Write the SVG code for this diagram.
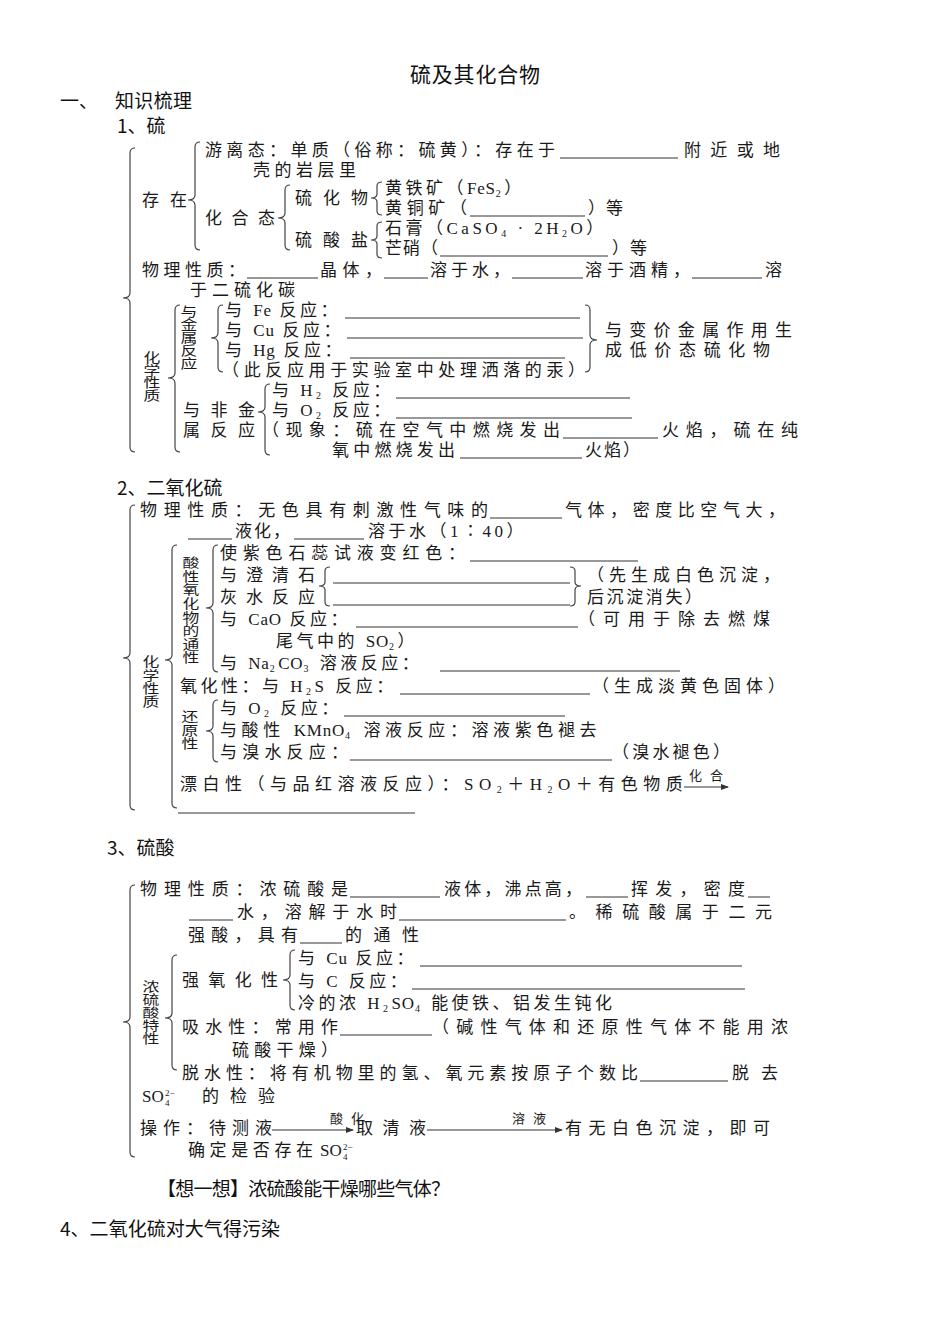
<svg xmlns="http://www.w3.org/2000/svg" width="950" height="1344" viewBox="0 0 950 1344">
<style>
.h{font-family:"Noto Sans CJK SC","Noto Sans",sans-serif;font-size:19px;fill:#111}
.t{font-family:"Liberation Serif","Noto Sans CJK SC",serif;font-size:17px;fill:#1a1a1a}
.ls{letter-spacing:3.5px}
.lat{letter-spacing:0.8px}
.v{font-family:"Noto Sans CJK SC",sans-serif;font-size:16px;fill:#1a1a1a;writing-mode:vertical-rl}
.a{font-family:"Noto Sans CJK SC",sans-serif;font-size:13px;fill:#1a1a1a}
.sm{font-size:10px}
.tiny{font-family:"Liberation Serif",serif;font-size:9px;fill:#1a1a1a}
.b{fill:none;stroke:#444;stroke-width:1.2}
.u{stroke:#333;stroke-width:1}
.ar{stroke:#333;stroke-width:1.1;marker-end:url(#arr)}
</style>
<defs>
<marker id="arr" markerWidth="8" markerHeight="6" refX="7" refY="3" orient="auto" markerUnits="userSpaceOnUse"><path d="M0,0 L8,3 L0,6 Z" fill="#333"/></marker>
</defs>
<rect width="950" height="1344" fill="#fff"/>

<g id="header">
<text class="h" x="410" y="82" style="font-size:21px" textLength="130">硫及其化合物</text>
<text class="h" x="60" y="108">一、</text>
<text class="h" x="115" y="108" textLength="77">知识梳理</text>
<text class="h" x="117" y="133">1、硫</text>
</g>

<g id="connectors">
<path class="b" d="M135,148 Q130,148 130,153 L130,293 Q130,298 123,298 Q130,298 130,303 L130,447 Q130,452 135,452"/>
<path class="b" d="M200,142 Q195,142 195,147 L195,195 Q195,200 188,200 Q195,200 195,205 L195,245 Q195,250 200,250"/>
<path class="b" d="M290,185 Q285,185 285,190 L285,213 Q285,218 278,218 Q285,218 285,223 L285,245 Q285,250 290,250"/>
<path class="b" d="M382,182 Q377,182 377,186 L377,194 Q377,198 371,198 Q377,198 377,202 L377,211 Q377,215 382,215"/>
<path class="b" d="M382,222 Q377,222 377,226 L377,236 Q377,240 371,240 Q377,240 377,244 L377,254 Q377,258 382,258"/>
<path class="b" d="M180,305 Q175,305 175,310 L175,373 Q175,378 168,378 Q175,378 175,383 L175,447 Q175,452 180,452"/>
<path class="b" d="M223,305 Q218,305 218,310 L218,333 Q218,338 211,338 Q218,338 218,343 L218,367 Q218,372 223,372"/>
<path class="b" d="M585,305 Q590,305 590,310 L590,335 Q590,340 597,340 Q590,340 590,345 L590,367 Q590,372 585,372"/>
<path class="b" d="M270,384 Q265,384 265,389 L265,407 Q265,412 258,412 Q265,412 265,417 L265,450 Q265,455 270,455"/>
<path class="b" d="M135,505 Q130,505 130,510 L130,653 Q130,658 123,658 Q130,658 130,663 L130,805 Q130,810 135,810"/>
<path class="b" d="M177,545 Q172,545 172,550 L172,655 Q172,660 165,660 Q172,660 172,665 L172,803 Q172,808 177,808"/>
<path class="b" d="M218,545 Q213,545 213,550 L213,603 Q213,608 206,608 Q213,608 213,613 L213,667 Q213,672 218,672"/>
<path class="b" d="M330,567 Q325,567 325,571 L325,582 Q325,586 319,586 Q325,586 325,590 L325,602 Q325,606 330,606"/>
<path class="b" d="M570,567 Q575,567 575,571 L575,582 Q575,586 581,586 Q575,586 575,590 L575,602 Q575,606 570,606"/>
<path class="b" d="M218,700 Q213,700 213,705 L213,726 Q213,731 206,731 Q213,731 213,736 L213,757 Q213,762 218,762"/>
<path class="b" d="M135,885 Q130,885 130,890 L130,1017 Q130,1022 123,1022 Q130,1022 130,1027 L130,1152 Q130,1157 135,1157"/>
<path class="b" d="M177,955 Q172,955 172,960 L172,1013 Q172,1018 165,1018 Q172,1018 172,1023 L172,1065 Q172,1070 177,1070"/>
<path class="b" d="M295,950 Q290,950 290,955 L290,975 Q290,980 283,980 Q290,980 290,985 L290,1005 Q290,1010 295,1010"/>
<line class="ar" x1="684" y1="787" x2="728" y2="787"/>
<line class="ar" x1="272" y1="1130" x2="353" y2="1130"/>
<line class="ar" x1="427" y1="1130" x2="562" y2="1130"/>
</g>

<g id="sulfur">
<text class="t" x="205" y="156" textLength="350">游离态：单质（俗称：硫黄）：存在于</text>
<line class="u" x1="560" y1="158" x2="678" y2="158"/>
<text class="t" x="684" y="156" textLength="96">附近或地</text>
<text class="t" x="253" y="176" textLength="103">壳的岩层里</text>
<text class="t" x="142" y="206" textLength="45">存在</text>
<text class="t" x="205" y="224" textLength="70">化合态</text>
<text class="t" x="295" y="204" textLength="73">硫化物</text>
<text class="t" x="295" y="246" textLength="73">硫酸盐</text>
<text class="t ls" x="385" y="194">黄铁矿（<tspan class="lat">FeS</tspan><tspan class="sm" dy="3">2</tspan><tspan dy="-3">）</tspan></text>
<text class="t" x="385" y="214" textLength="82">黄铜矿（</text>
<line class="u" x1="470" y1="216" x2="585" y2="216"/>
<text class="t" x="588" y="214" textLength="35">）等</text>
<text class="t ls" x="385" y="234">石膏（CaSO<tspan class="sm" dy="3">4</tspan><tspan dy="-3"> · 2H</tspan><tspan class="sm" dy="3">2</tspan><tspan dy="-3">O）</tspan></text>
<text class="t" x="385" y="254" textLength="53">芒硝（</text>
<line class="u" x1="440" y1="256" x2="608" y2="256"/>
<text class="t" x="612" y="254" textLength="35">）等</text>
<text class="t" x="142" y="276" textLength="103">物理性质：</text>
<line class="u" x1="247" y1="278" x2="318" y2="278"/>
<text class="t" x="320" y="276" textLength="62">晶体，</text>
<line class="u" x1="384" y1="278" x2="428" y2="278"/>
<text class="t" x="430" y="276" textLength="80">溶于水，</text>
<line class="u" x1="512" y1="278" x2="583" y2="278"/>
<text class="t" x="585" y="276" textLength="105">溶于酒精，</text>
<line class="u" x1="692" y1="278" x2="762" y2="278"/>
<text class="t" x="765" y="276">溶</text>
<text class="t" x="190" y="296" textLength="105">于二硫化碳</text>
<text class="v" transform="translate(152,351) scale(1.05,0.8)" style="letter-spacing:-0.4px">化学性质</text>
<text class="v" transform="translate(189,305) scale(1.05,0.8)" style="letter-spacing:0.3px">与金属反应</text>
<text class="t ls" x="225" y="316">与 <tspan class="lat">Fe</tspan> 反应：</text>
<line class="u" x1="345" y1="318" x2="580" y2="318"/>
<text class="t ls" x="225" y="336">与 <tspan class="lat">Cu</tspan> 反应：</text>
<line class="u" x1="347" y1="338" x2="583" y2="338"/>
<text class="t ls" x="225" y="356">与 <tspan class="lat">Hg</tspan> 反应：</text>
<line class="u" x1="350" y1="358" x2="565" y2="358"/>
<text class="t" x="222" y="376" textLength="363">（此反应用于实验室中处理洒落的汞）</text>
<text class="t" x="605" y="336" textLength="187">与变价金属作用生</text>
<text class="t" x="605" y="356" textLength="165">成低价态硫化物</text>
<text class="t" x="183" y="416" textLength="72">与非金</text>
<text class="t" x="183" y="436" textLength="72">属反应</text>
<text class="t ls" x="272" y="396">与 H<tspan class="sm" dy="3">2</tspan><tspan dy="-3"> 反应：</tspan></text>
<line class="u" x1="396" y1="398" x2="630" y2="398"/>
<text class="t ls" x="272" y="416">与 O<tspan class="sm" dy="3">2</tspan><tspan dy="-3"> 反应：</tspan></text>
<line class="u" x1="396" y1="418" x2="632" y2="418"/>
<text class="t" x="262" y="436" textLength="298">（现象：硫在空气中燃烧发出</text>
<line class="u" x1="563" y1="438" x2="658" y2="438"/>
<text class="t" x="662" y="436" textLength="136">火焰，硫在纯</text>
<text class="t" x="332" y="456" textLength="123">氧中燃烧发出</text>
<line class="u" x1="460" y1="458" x2="582" y2="458"/>
<text class="t" x="585" y="456" textLength="55">火焰）</text>
</g>

<g id="sulfur-dioxide">
<text class="h" x="117" y="495">2、二氧化硫</text>
<text class="t" x="140" y="516" textLength="348">物理性质：无色具有刺激性气味的</text>
<line class="u" x1="490" y1="518" x2="562" y2="518"/>
<text class="t" x="565" y="516" textLength="220">气体，密度比空气大，</text>
<line class="u" x1="188" y1="539" x2="232" y2="539"/>
<text class="t" x="235" y="537" textLength="55">液化，</text>
<line class="u" x1="294" y1="539" x2="364" y2="539"/>
<text class="t ls" x="368" y="537">溶于水（1∶40）</text>
<text class="v" transform="translate(151,655) scale(1.05,0.8)" style="letter-spacing:0.6px">化学性质</text>
<text class="v" transform="translate(191,556) scale(1.05,0.8)" style="letter-spacing:1px">酸性氧化物的通性</text>
<text class="t" x="220" y="559" textLength="245">使紫色石蕊试液变红色：</text>
<line class="u" x1="470" y1="561" x2="638" y2="561"/>
<text class="t" x="220" y="581" textLength="95">与澄清石</text>
<text class="t" x="220" y="603" textLength="95">灰水反应</text>
<line class="u" x1="333" y1="583" x2="570" y2="583"/>
<line class="u" x1="333" y1="605" x2="570" y2="605"/>
<text class="t" x="587" y="581" textLength="193">（先生成白色沉淀，</text>
<text class="t" x="587" y="603" textLength="115">后沉淀消失）</text>
<text class="t ls" x="220" y="625">与 <tspan class="lat">CaO</tspan> 反应：</text>
<line class="u" x1="356" y1="627" x2="578" y2="627"/>
<text class="t" x="578" y="625" textLength="192">（可用于除去燃煤</text>
<text class="t ls" x="276" y="647">尾气中的 <tspan class="lat">SO</tspan><tspan class="sm" dy="3">2</tspan><tspan dy="-3">）</tspan></text>
<text class="t ls" x="220" y="669">与 <tspan class="lat">Na</tspan><tspan class="sm" dy="3">2</tspan><tspan class="lat" dy="-3">CO</tspan><tspan class="sm" dy="3">3</tspan><tspan dy="-3"> 溶液反应：</tspan></text>
<line class="u" x1="440" y1="671" x2="680" y2="671"/>
<text class="t ls" x="180" y="692">氧化性：与 H<tspan class="sm" dy="3">2</tspan><tspan dy="-3">S 反应：</tspan></text>
<line class="u" x1="400" y1="694" x2="590" y2="694"/>
<text class="t" x="592" y="692" textLength="193">（生成淡黄色固体）</text>
<text class="v" transform="translate(190,710) scale(1.05,0.8)" style="letter-spacing:0.9px">还原性</text>
<text class="t ls" x="220" y="714">与 O<tspan class="sm" dy="3">2</tspan><tspan dy="-3"> 反应：</tspan></text>
<line class="u" x1="344" y1="716" x2="565" y2="716"/>
<text class="t ls" x="220" y="736" style="letter-spacing:4.6px">与酸性 <tspan class="lat">KMnO</tspan><tspan class="sm" dy="3">4</tspan><tspan dy="-3"> 溶液反应：溶液紫色褪去</tspan></text>
<text class="t" x="220" y="758" textLength="128">与溴水反应：</text>
<line class="u" x1="350" y1="760" x2="612" y2="760"/>
<text class="t" x="612" y="758" textLength="118">（溴水褪色）</text>
<text class="t ls" x="180" y="790" style="letter-spacing:5.5px">漂白性（与品红溶液反应）：SO<tspan class="sm" dy="3">2</tspan><tspan dy="-3">＋H</tspan><tspan class="sm" dy="3">2</tspan><tspan dy="-3">O＋有色物质</tspan></text>
<text class="a" x="689" y="780" textLength="34">化合</text>
<line class="u" x1="178" y1="813" x2="415" y2="813"/>
</g>

<g id="sulfuric-acid">
<text class="h" x="107" y="855">3、硫酸</text>
<text class="t" x="140" y="895" textLength="208">物理性质：浓硫酸是</text>
<line class="u" x1="350" y1="897" x2="440" y2="897"/>
<text class="t" x="444" y="895" textLength="138">液体，沸点高，</text>
<line class="u" x1="586" y1="897" x2="628" y2="897"/>
<text class="t" x="631" y="895" textLength="114">挥发，密度</text>
<line class="u" x1="748" y1="897" x2="770" y2="897"/>
<line class="u" x1="189" y1="920" x2="233" y2="920"/>
<text class="t" x="237" y="918" textLength="160">水，溶解于水时</text>
<line class="u" x1="399" y1="920" x2="566" y2="920"/>
<text class="t" x="569" y="918" textLength="203">。稀硫酸属于二元</text>
<text class="t" x="188" y="941" textLength="110">强酸，具有</text>
<line class="u" x1="300" y1="943" x2="342" y2="943"/>
<text class="t" x="345" y="941" textLength="74">的通性</text>
<text class="v" transform="translate(151,980) scale(1.05,0.8)" style="letter-spacing:0.3px">浓硫酸特性</text>
<text class="t" x="182" y="986" textLength="96">强氧化性</text>
<text class="t ls" x="298" y="964">与 <tspan class="lat">Cu</tspan> 反应：</text>
<line class="u" x1="420" y1="966" x2="742" y2="966"/>
<text class="t ls" x="298" y="987">与 C 反应：</text>
<line class="u" x1="412" y1="989" x2="745" y2="989"/>
<text class="t ls" x="298" y="1009">冷的浓 H<tspan class="sm" dy="3">2</tspan><tspan class="lat" dy="-3">SO</tspan><tspan class="sm" dy="3">4</tspan><tspan dy="-3"> 能使铁、铝发生钝化</tspan></text>
<text class="t" x="182" y="1033" textLength="156">吸水性：常用作</text>
<line class="u" x1="340" y1="1035" x2="432" y2="1035"/>
<text class="t" x="432" y="1033" textLength="356">（碱性气体和还原性气体不能用浓</text>
<text class="t" x="232" y="1056" textLength="106">硫酸干燥）</text>
<text class="t" x="182" y="1079" textLength="456">脱水性：将有机物里的氢、氧元素按原子个数比</text>
<line class="u" x1="640" y1="1081" x2="728" y2="1081"/>
<text class="t" x="732" y="1079" textLength="46">脱去</text>
<text class="t" x="142" y="1102">SO</text>
<text class="tiny" x="165" y="1106">4</text>
<text class="tiny" x="165" y="1096">2−</text>
<text class="t" x="202" y="1102" textLength="73">的检验</text>
<text class="t" x="140" y="1134" textLength="132">操作：待测液</text>
<text class="a" x="330" y="1123" textLength="34">酸化</text>
<text class="t" x="356" y="1134" textLength="70">取清液</text>
<text class="a" x="512" y="1123" textLength="34">溶液</text>
<text class="t" x="565" y="1134" textLength="205">有无白色沉淀，即可</text>
<text class="t" x="188" y="1156" textLength="125">确定是否存在</text>
<text class="t" x="320" y="1156">SO</text>
<text class="tiny" x="343" y="1160">4</text>
<text class="tiny" x="343" y="1150">2−</text>
</g>

<g id="footer">
<text class="h" x="157" y="1196" textLength="293">【想一想】浓硫酸能干燥哪些气体？</text>
<text class="h" x="60" y="1236" textLength="220">4、二氧化硫对大气得污染</text>
</g>
</svg>
